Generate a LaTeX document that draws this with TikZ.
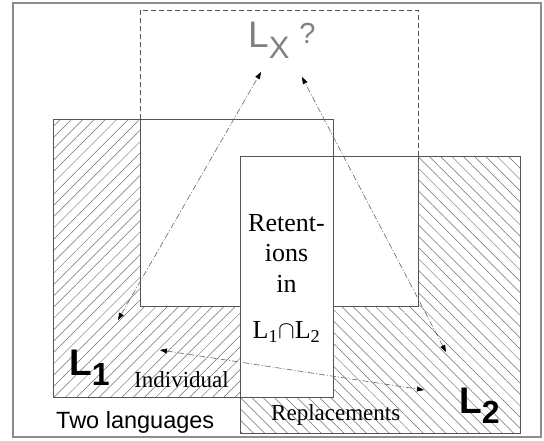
\documentclass[tikz,border=0pt]{standalone}
\usepackage{fontspec}
\setmainfont{Liberation Serif}
\newfontfamily\arialfont{Liberation Sans}
\usepackage{tikz}
\usetikzlibrary{arrows.meta,patterns.meta}
\definecolor{frameG}{RGB}{140,140,140}
\definecolor{edgeG}{RGB}{85,85,85}
\definecolor{hatchG}{RGB}{110,110,110}
\definecolor{lxG}{RGB}{128,128,128}
\definecolor{linkG}{RGB}{100,100,100}

\begin{document}
\begin{tikzpicture}[
  x=1pt, y=-1pt,
  edge/.style={draw=edgeG, line width=0.8pt},
  hatchA/.style={pattern={Lines[angle=45,distance=8pt,line width=0.5pt]}, pattern color=hatchG},
  hatchB/.style={pattern={Lines[angle=-45,distance=8pt,line width=0.5pt]}, pattern color=hatchG},
  link/.style={draw=linkG, line width=0.6pt, dash pattern=on 6pt off 2pt on 1pt off 2pt,
    {Triangle[length=7pt,width=5pt,black]}-{Triangle[length=7pt,width=5pt,black]}},
  lang/.style={inner sep=0pt, anchor=base west, font=\arialfont\bfseries\fontsize{37}{37}\selectfont},
  word/.style={inner sep=0pt, anchor=base west, font=\fontsize{23}{23}\selectfont}
]
\useasboundingbox (0,0) rectangle (544,440);
% corners of the three languages
\coordinate (l1nw) at (53,119);
\coordinate (l1se) at (333,397);
\coordinate (l2nw) at (240,156);
\coordinate (l2se) at (520,433);
\coordinate (lxnw) at (140,10);
\coordinate (lxse) at (418,306);

\draw[frameG, line width=1.8pt] (13,3) rectangle (541,437);

\fill[hatchA] (l1nw) rectangle (l1se);
\fill[hatchB] (l2nw) rectangle (l2se);
\fill[white] (lxnw) rectangle (lxse);
\fill[white] (l2nw) rectangle (l1se);

\draw[edge] (l1nw) rectangle (l1se);
\draw[edge] (l2nw) rectangle (l2se);
\draw[edge, dash pattern=on 5pt off 3pt] (lxnw |- l1nw) -- (lxnw) -- (lxnw -| lxse) -- (lxse |- l2nw);
\draw[edge] (lxnw |- l1nw) -- (lxnw |- lxse) -- (l2nw |- lxse);
\draw[edge] (l1se |- lxse) -- (lxse) -- (lxse |- l2nw);

% labels
\node[lang, font=\arialfont\fontsize{37}{37}\selectfont, text=lxG] (lx) at (248,47)
  {L\raisebox{-11pt}{\fontsize{31}{31}\selectfont X}\hspace{10pt}\raisebox{4pt}{\fontsize{29}{29}\selectfont ?}};
\node[lang] (l1) at (69,375) {L\raisebox{-10pt}{\fontsize{32}{32}\selectfont 1}};
\node[lang] (l2) at (459,413) {L\raisebox{-10pt}{\fontsize{32}{32}\selectfont 2}};
\node[word, font=\arialfont\fontsize{23.5}{23.5}\selectfont] (two) at (56,428) {Two languages};
\node[word] (indiv) at (134,387) {Individual};
\node[word] (repl) at (271,420) {Replacements};
\node[align=center, inner sep=0pt, font=\fontsize{26}{30.5}\selectfont, anchor=north] (ret) at (286.5,214)
  {Retent-\\ions\\in\\[16pt]L\textsubscript{1}$\cap$L\textsubscript{2}};

% arrow ends
\coordinate (l1end) at (118,320);
\coordinate (lxendA) at (261,72);
\coordinate (l2end) at (446,352);
\coordinate (lxendB) at (302,77);
\coordinate (indend) at (160,350);
\coordinate (repend) at (424,390);

\draw[link] (l1end) -- (lxendA);
\draw[link] (l2end) -- (lxendB);
\draw[link] (indend) -- (repend);
\end{tikzpicture}
\end{document}
